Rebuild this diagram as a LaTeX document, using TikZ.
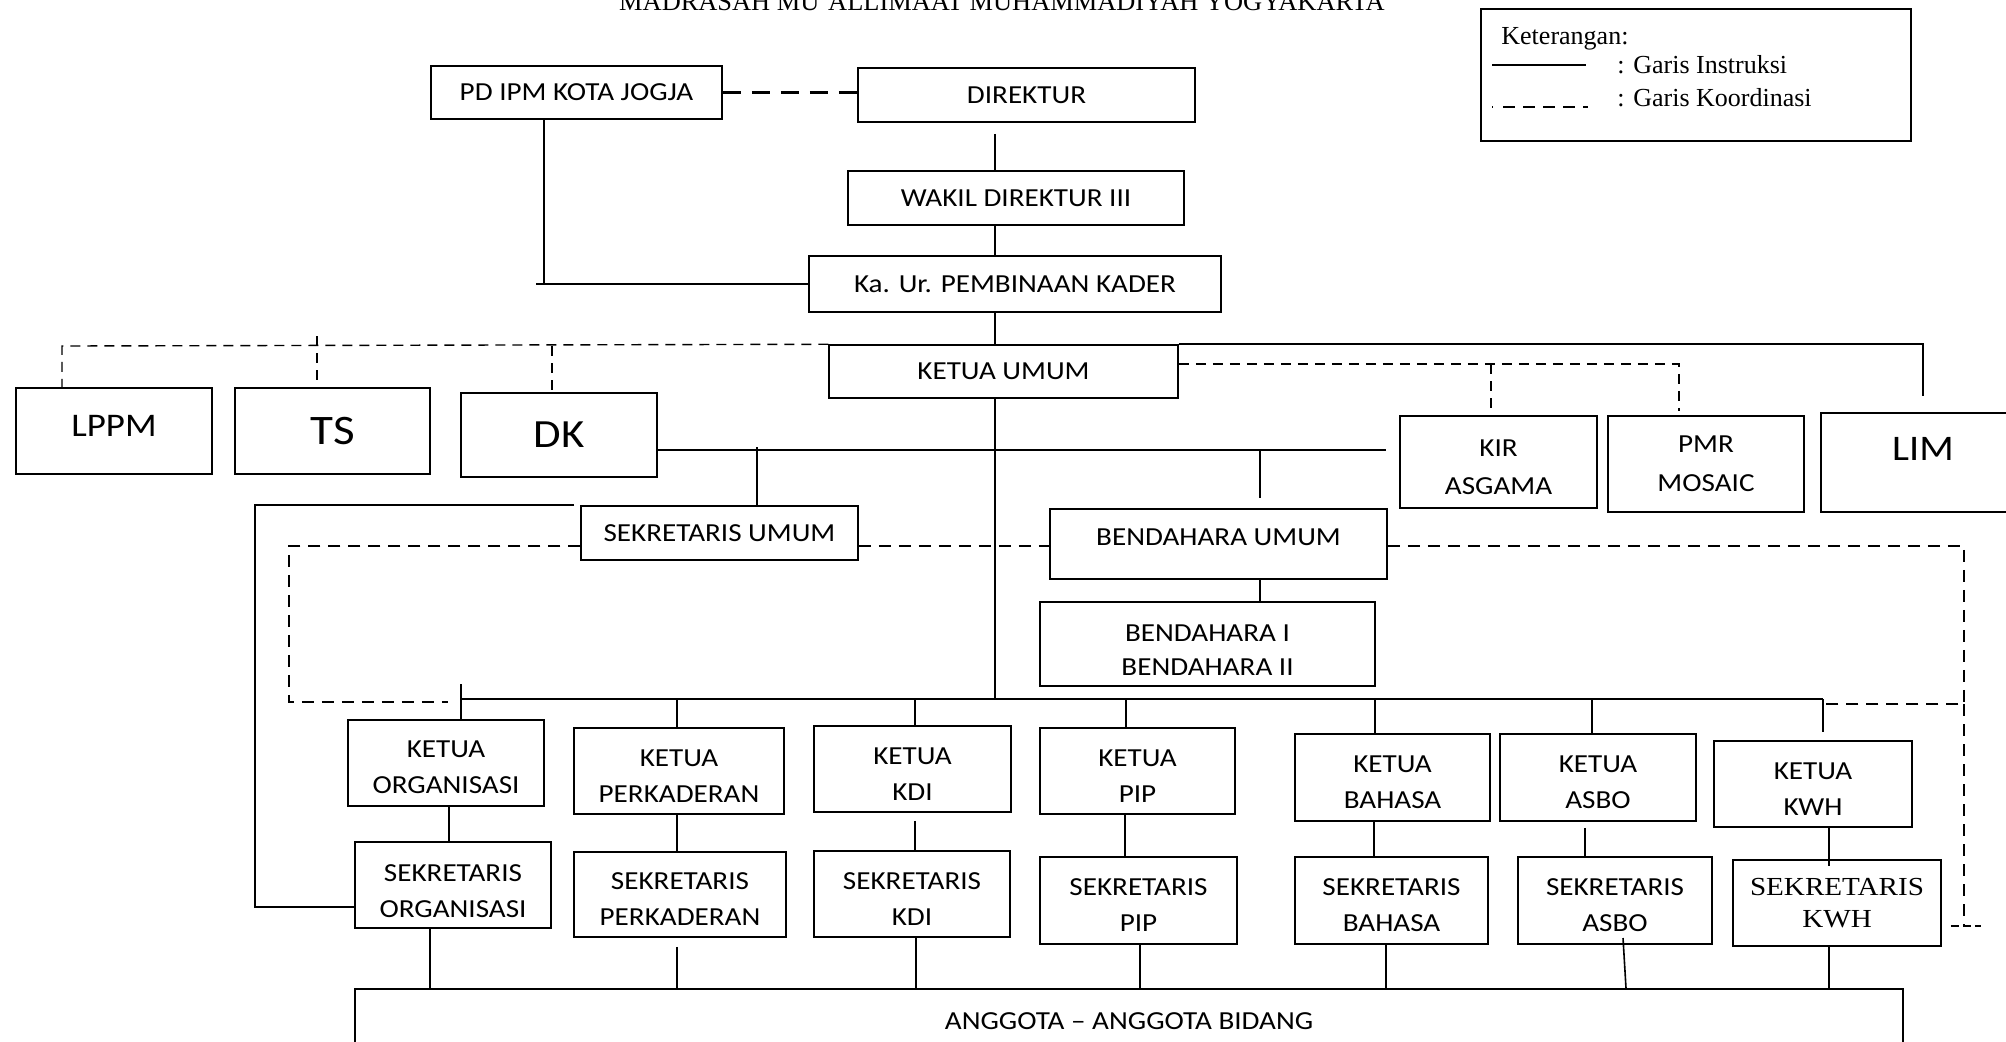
\documentclass[tikz,border=0pt]{standalone}
\usepackage{fontspec}
\setmainfont{Liberation Serif}
\newfontfamily\calf[FakeStretch=1.12]{Carlito}
\newfontfamily\timesx[FakeStretch=1.12]{Liberation Serif}
% box by corners: [opts]{name}{x1}{y1}{x2}{y2}{text}; text placed centred, shifted by tsh
\newcommand\bbox[7][]{%
  \gdef\tsh{0pt}\gdef\tfont{\calf\fontsize{13}{18}\selectfont}%
  \node[box,#1, minimum width={(#5-#3)*0.5pt}, minimum height={(#6-#4)*0.5pt}]
    (#2) at ({(#3+#5)/2},{(#4+#6)/2}) {};
  \node[align=center, inner sep=0pt, font=\tfont, yshift=\tsh] (#2t) at (#2.center) {#7};}
\begin{document}
\begin{tikzpicture}[x=0.5pt,y=-0.5pt,
  box/.style={draw, line width=0.75pt, inner sep=0pt},
  tf/.code={\gdef\tfont{#1}},
  tsh/.code={\gdef\tsh{#1}},
  ln/.style={line width=0.8pt},
  thk/.style={line width=1.1pt},
  dsh/.style={line width=0.7pt, dash pattern=on 5pt off 3.5pt},
  dshk/.style={line width=1.2pt, dash pattern=on 6pt off 4pt},
  dshp/.style={line width=1.2pt, dash pattern=on 9pt off 5.5pt},
  leg/.style={font=\fontsize{13}{15}\selectfont, inner sep=0pt, anchor=base west}]
\useasboundingbox (0,0) rectangle (2006,1041);
\clip (0,0) rectangle (2006,1041);
\fill[white] (0,0) rectangle (2006,1041);

% title (cut off at top)
\node[font=\fontsize{13.2}{15}\selectfont, anchor=base, inner sep=0pt] (title) at (1002,10) {MADRASAH MU‘ALLIMAAT MUHAMMADIYAH YOGYAKARTA};

% legend
\bbox[line width=0.9pt]{legbox}{1481}{9}{1911}{141}{}
\node[leg] (legt) at (1501,44) {Keterangan:};
\coordinate (ls1) at (1492,65); \coordinate (ls2) at (1586,65);
\draw[ln] (ls1) -- (ls2);
\node[leg] (leg1) at (1617,73) {: Garis Instruksi};
\coordinate (ld1) at (1492,107); \coordinate (ld2) at (1588,107);
\draw[line width=0.9pt, dash pattern=on 0.7pt off 5pt on 6pt off 4pt on 6pt off 4pt on 6pt off 4pt on 6pt off 4pt on 6pt off 4pt] (ld1) -- (ld2);
\node[leg] (leg2) at (1617,106) {: Garis Koordinasi};

% boxes
\bbox{pd}{431}{66}{722}{119}{PD IPM KOTA JOGJA}
\bbox{dir}{858}{68}{1195}{122}{DIREKTUR}
\bbox{wadir}{848}{171}{1184}{225}{WAKIL DIREKTUR III}
\bbox{kaur}{809}{256}{1221}{312}{Ka. Ur. PEMBINAAN KADER}
\bbox{ku}{829}{345}{1178}{398}{KETUA UMUM}
\bbox[tf=\calf\fontsize{16.5}{16.5}\selectfont, tsh=2.5pt]{lppm}{16}{388}{212}{474}{LPPM}
\bbox[tf=\calf\fontsize{21}{21}\selectfont]{ts}{235}{388}{430}{474}{TS}
\bbox[tf=\calf\fontsize{20}{20}\selectfont]{dk}{461}{393}{657}{477}{DK}
\bbox[tf=\calf\fontsize{13}{19}\selectfont, tsh=-2.5pt]{kir}{1400}{416}{1597}{508}{KIR\\ASGAMA}
\bbox[tf=\calf\fontsize{13}{19.5}\selectfont]{pmr}{1608}{416}{1804}{512}{PMR\\MOSAIC}
\bbox[tf=\calf\fontsize{18}{18}\selectfont, tsh=6.7pt]{lim}{1821}{413}{2025}{512}{LIM}
\bbox{sku}{581}{506}{858}{560}{SEKRETARIS UMUM}
\bbox[tsh=3.5pt]{bdu}{1050}{509}{1387}{579}{BENDAHARA UMUM}
\bbox[tf=\calf\fontsize{13}{17}\selectfont, tsh=-3.2pt]{bd12}{1040}{602}{1375}{686}{BENDAHARA I\\BENDAHARA II}

\bbox[tsh=-2pt]{k1}{348}{720}{544}{806}{KETUA\\ORGANISASI}
\bbox[tsh=-2.5pt]{k2}{574}{728}{784}{814}{KETUA\\PERKADERAN}
\bbox[tsh=-2.5pt]{k3}{814}{726}{1011}{812}{KETUA\\KDI}
\bbox[tsh=-2.5pt]{k4}{1040}{728}{1235}{814}{KETUA\\PIP}
\bbox[tsh=-2.5pt]{k5}{1295}{734}{1490}{821}{KETUA\\BAHASA}
\bbox[tsh=-2.5pt]{k6}{1500}{734}{1696}{821}{KETUA\\ASBO}
\bbox[tsh=-2.5pt]{k7}{1714}{741}{1912}{827}{KETUA\\KWH}

\bbox[tsh=-3pt]{s1}{355}{842}{551}{928}{SEKRETARIS\\ORGANISASI}
\bbox[tsh=-2.5pt]{s2}{574}{852}{786}{937}{SEKRETARIS\\PERKADERAN}
\bbox[tsh=-2.5pt]{s3}{814}{851}{1010}{937}{SEKRETARIS\\KDI}
\bbox[tsh=-2.5pt]{s4}{1040}{857}{1237}{944}{SEKRETARIS\\PIP}
\bbox[tsh=-2.5pt]{s5}{1295}{857}{1488}{944}{SEKRETARIS\\BAHASA}
\bbox[tsh=-2.5pt]{s6}{1518}{857}{1712}{944}{SEKRETARIS\\ASBO}
\bbox[tf=\timesx\fontsize{13}{16}\selectfont]{s7}{1733}{860}{1941}{946}{SEKRETARIS\\KWH}

\bbox{ang}{355}{989}{1903}{1053}{ANGGOTA – ANGGOTA BIDANG}

% top connectors
\draw[dshp] (pd.east) -- (pd.east -| dir.west);
\coordinate (mx) at (995,0);
\draw[ln, shorten <=5.5pt] (dir.south -| mx) -- (wadir.north -| mx);
\draw[ln] (wadir.south -| mx) -- (kaur.north -| mx);
\draw[ln] (kaur.south -| mx) -- (ku.north -| mx);
\coordinate (bus0) at (461,699);
\coordinate (bus1) at (1823,699);
\draw[ln] (ku.south -| mx) -- (bus0 -| mx);

\coordinate (pdx) at (544,0);
\coordinate (pdh) at (536,284);
\draw[ln] (pd.south -| pdx) -- (kaur.west -| pdx);
\draw[thk] (pdh) -- (kaur.west);

% left dashed coordination
\coordinate (tl) at (62,346);
\draw[dsh] (ku.north west) -- (tl) -- (lppm.north -| tl);
\coordinate (tsx) at (317,336);
\draw[dsh, shorten >=3pt] (tsx) -- (ts.north -| tsx);
\coordinate (dkx) at (552,346);
\draw[dsh] (dkx) -- (dk.north -| dkx);

% right solid and dashed
\draw[ln, shorten >=8pt] (ku.north east) -| (lim.north);
\coordinate (rd) at (1679,364);
\draw[dsh, shorten >=2pt] (ku.east |- rd) -- (rd) -- (pmr.north -| rd);
\coordinate (kd) at (1491,364);
\draw[dsh, shorten >=3pt] (kd) -- (kir.north -| kd);

% middle solid line
\coordinate (m450) at (0,450);
\draw[ln, shorten >=6.5pt] (dk.east |- m450) -- (kir.west |- m450);
\coordinate (sx) at (757,447);
\draw[ln] (sx) -- (sku.north -| sx);
\coordinate (bx) at (1260,450);
\draw[ln, shorten >=5pt] (bx) -- (bdu.north -| bx);
\draw[ln] (bdu.south -| bx) -- (bd12.north -| bx);

% left solid line to sekretaris organisasi
\coordinate (l0) at (574,505);
\coordinate (l1) at (255,505);
\coordinate (l2) at (255,907);
\draw[thk] (l0) -- (l1) -- (l2) -- (s1.west |- l2);

% big dashed frame
\coordinate (d1) at (289,546);
\coordinate (d2) at (289,702);
\coordinate (d3) at (448,702);
\draw[dshk] (sku.west |- d1) -- (d1) -- (d2) -- (d3);
\draw[dshk] (sku.east |- d1) -- (bdu.west |- d1);
\coordinate (d4) at (1964,546);
\coordinate (d5) at (1964,704);
\coordinate (d6) at (1823,704);
\coordinate (d7) at (1964,926);
\draw[dshk] (bdu.east |- d4) -- (d4) -- (d5) -- (d6);
\draw[dshk] (d5) -- (d7);
\draw[dshk, dash pattern=on 4pt off 2pt] (s7.east |- d7) ++(4.5pt,0) -- ++(15pt,0);

% bus to ketua boxes
\draw[ln] (bus0) -- (bus1);
\coordinate (b0t) at (461,684);
\draw[ln] (b0t) -- (k1.north -| b0t);
\foreach \xx/\nn/\sh in {677/k2/0pt, 915/k3/0pt, 1126/k4/0pt, 1375/k5/0pt, 1592/k6/0pt, 1823/k7/4pt}{
  \coordinate (t) at (\xx,699);
  \draw[ln, shorten >=\sh] (t) -- (t |- \nn.north);
}

% ketua -> sekretaris
\foreach \xx/\aa/\bb/\sa/\sb in {449/k1/s1/0pt/0pt, 677/k2/s2/0pt/0pt, 915/k3/s3/4pt/0pt, 1125/k4/s4/0pt/0pt, 1374/k5/s5/0pt/0pt, 1585/k6/s6/3pt/0pt, 1829/k7/s7/0pt/-3.5pt}{
  \coordinate (t) at (\xx,0);
  \draw[ln, shorten <=\sa, shorten >=\sb] (t |- \aa.south) -- (t |- \bb.north);
}

% sekretaris -> anggota
\foreach \xx/\aa/\sa in {430/s1/0pt, 677/s2/4.5pt, 916/s3/0pt, 1140/s4/0pt, 1386/s5/0pt, 1829/s7/0pt}{
  \coordinate (t) at (\xx,0);
  \draw[ln, shorten <=\sa] (t |- \aa.south) -- (t |- ang.north);
}
\coordinate (q1) at (1623,938);
\coordinate (q2) at (1626,0);
\draw[ln] (q1) -- (q2 |- ang.north);
\end{tikzpicture}
\end{document}
